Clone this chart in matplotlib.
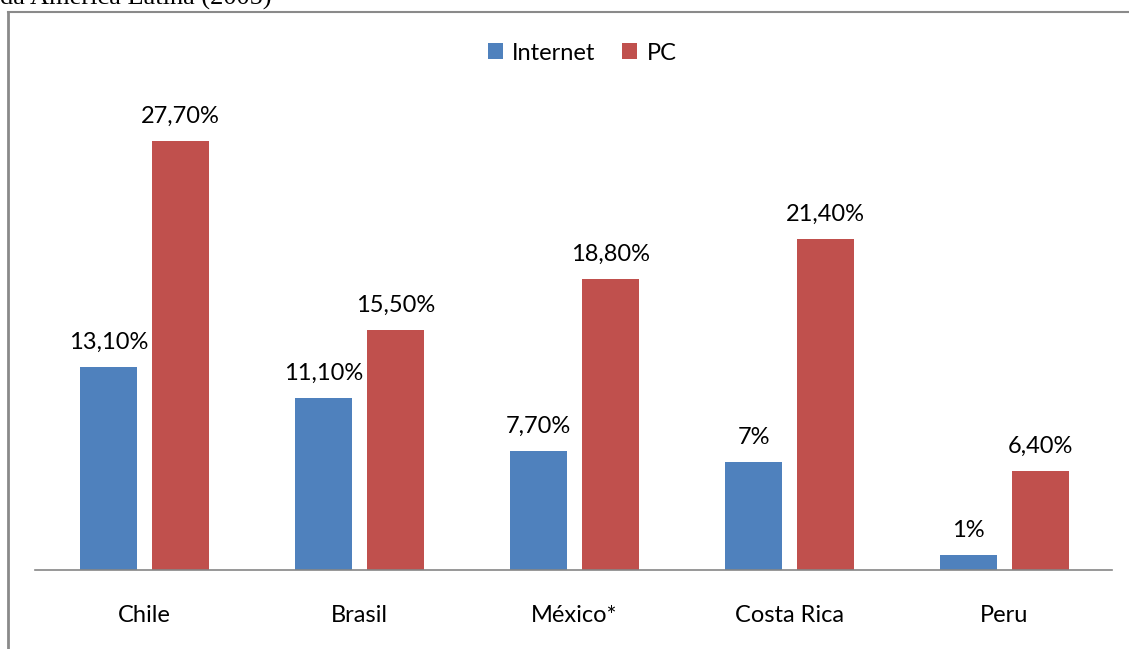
import matplotlib
matplotlib.use("Agg")
import matplotlib.pyplot as plt
from matplotlib.lines import Line2D
import numpy as np

categories = ["Chile", "Brasil", "México*", "Costa Rica", "Peru"]
internet = [13.1, 11.1, 7.7, 7.0, 1.0]
pc = [27.7, 15.5, 18.8, 21.4, 6.4]
internet_labels = ["13,10%", "11,10%", "7,70%", "7%", "1%"]
pc_labels = ["27,70%", "15,50%", "18,80%", "21,40%", "6,40%"]
series_names = ["Internet", "PC"]

W, H = 1129, 649
fig = plt.figure(figsize=(W / 100, H / 100), dpi=100)
font = "Lato"
fs = 17

ax = fig.add_axes([37 / W, (H - 570) / H, 1075 / W, (570 - 80) / H])
x = np.arange(len(categories))
bw = 0.265
off = 0.167
b1 = ax.bar(x - off, internet, bw, color="#4F81BD", label=series_names[0])
b2 = ax.bar(x + off, pc, bw, color="#C0504D", label=series_names[1])

for bars, labels in ((b1, internet_labels), (b2, pc_labels)):
    for rect, lab in zip(bars, labels):
        ax.annotate(lab, (rect.get_x() + rect.get_width() / 2, rect.get_height()),
                    xytext=(0, 10), textcoords="offset points", ha="center", va="bottom",
                    fontsize=fs, family=font, color="#000000")

ax.set_xlim(-0.5, 4.5)
ax.set_ylim(0, (570 - 80) / 15.49)
ax.set_xticks(x)
ax.set_xticklabels(categories, fontsize=fs, family=font)
ax.tick_params(axis="x", length=0, pad=25)
ax.set_yticks([])
for s in ("top", "right", "left"):
    ax.spines[s].set_visible(False)
ax.spines["bottom"].set_color("#868686")
ax.spines["bottom"].set_linewidth(1.2)
ax.spines["bottom"].set_bounds(-0.51, 4.5)

fig.legend(handles=[b1, b2], loc="center", bbox_to_anchor=(582 / W, 1 - 53 / H), ncol=2,
           frameon=False, prop={"family": font, "size": fs}, handlelength=0.65,
           handleheight=0.65, handletextpad=0.4, columnspacing=1.1)

# outer border (left and top)
fig.add_artist(Line2D([7.5 / W, 7.5 / W], [0, 1 - 12 / H], transform=fig.transFigure,
                      color="#8a8a8a", lw=2))
fig.add_artist(Line2D([7.5 / W, 1], [1 - 12 / H, 1 - 12 / H], transform=fig.transFigure,
                      color="#8a8a8a", lw=1.5))

# caption clipped at the top edge, as in the reference
fig.text(0, 1 - 5 / H, "da América Latina (2005)", family="Liberation Serif",
         fontsize=19, ha="left", va="baseline")

fig.savefig("out.png", dpi=100)
